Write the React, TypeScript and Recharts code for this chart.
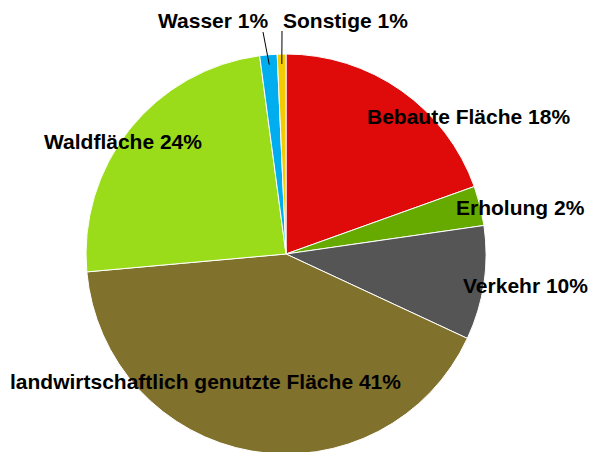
import { PieChart, Pie, Cell } from 'recharts';

// Flächennutzung – Anteile (Winkel)
const categories = [
  'Bebaute Fläche',
  'Erholung',
  'Verkehr',
  'landwirtschaftlich genutzte Fläche',
  'Waldfläche',
  'Wasser',
  'Sonstige',
];
const shares = [19.5, 3.2, 9.2, 41.6, 24.3, 1.4, 0.7];
const percentLabels = ['18%', '2%', '10%', '41%', '24%', '1%', '1%'];

const colors = ['#DF0A0A', '#66AA00', '#555555', '#80712C', '#9ADC1A', '#00AEEF', '#F2CC00'];

// where each label text sits, plus an optional leader start
const labelAt = [
  { x: 367, y: 124 },
  { x: 456, y: 215 },
  { x: 463, y: 293 },
  { x: 10, y: 389 },
  { x: 44, y: 149 },
  { x: 158, y: 28, lx: 263, ly: 32 },
  { x: 283, y: 28, lx: 282, ly: 31 },
];

const chartData = categories.map((name, i) => ({ name, value: shares[i] }));

const RAD = Math.PI / 180;

function renderLabel(props: any) {
  const { cx, cy, midAngle, outerRadius, index } = props;
  const pos = labelAt[index];
  const r = outerRadius - 10;
  const ex = cx + r * Math.cos(-midAngle * RAD);
  const ey = cy + r * Math.sin(-midAngle * RAD);
  return (
    <g key={`lbl-${index}`}>
      {pos.lx !== undefined && (
        <line x1={pos.lx} y1={pos.ly} x2={ex} y2={ey} stroke="#000" strokeWidth={1} />
      )}
      <text
        x={pos.x}
        y={pos.y}
        fill="#000"
        fontFamily="'Liberation Sans', Arial, sans-serif"
        fontWeight="bold"
        fontSize={21}
        textAnchor="start"
      >
        {`${categories[index]} ${percentLabels[index]}`}
      </text>
    </g>
  );
}

export default function App() {
  return (
    <div style={{ position: 'absolute', left: 0, top: 0, width: 592, height: 452, background: '#fff' }}>
      <PieChart width={592} height={452} margin={{ top: 0, right: 0, bottom: 0, left: 0 }}>
        <Pie
          data={chartData}
          dataKey="value"
          nameKey="name"
          cx={286}
          cy={254}
          outerRadius={200}
          startAngle={90}
          endAngle={-270}
          stroke="#fff"
          strokeWidth={1}
          label={renderLabel}
          labelLine={false}
          isAnimationActive={false}
        >
          {chartData.map((d, i) => (
            <Cell key={d.name} fill={colors[i]} />
          ))}
        </Pie>
      </PieChart>
    </div>
  );
}
